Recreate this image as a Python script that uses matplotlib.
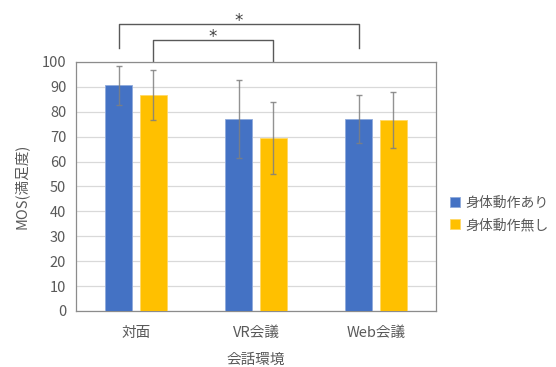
import matplotlib
matplotlib.use("Agg")
import matplotlib.pyplot as plt
import numpy as np

plt.rcParams['font.family'] = ['Noto Sans CJK JP', 'DejaVu Sans']

categories = ["対面", "VR会議", "Web会議"]
series_names = ["身体動作あり", "身体動作無し"]
with_motion = [90.6, 77.0, 77.0]
with_motion_sd = [7.7, 15.7, 9.6]
without_motion = [86.6, 69.6, 76.6]
without_motion_sd = [10.0, 14.4, 11.2]
yticks = list(range(0, 101, 10))

text_color = "#595959"
blue = "#4472C4"
yellow = "#FFC000"
fs = 10.5

fig = plt.figure(figsize=(5.56, 3.67), dpi=100)
ax = fig.add_axes([0.1367, 0.1526, 0.6475, 0.6785])

x = np.arange(len(categories))
width = 0.225
offset = 0.142

err_kw = dict(ecolor="#7f7f7f", elinewidth=1.0, capsize=2, capthick=1.0, alpha=0.85)
ax.bar(x - offset, with_motion, width, color=blue, edgecolor="#8faadc",
       linewidth=0.6, yerr=with_motion_sd, error_kw=err_kw, label=series_names[0], zorder=3)
ax.bar(x + offset, without_motion, width, color=yellow, edgecolor="#ffd966",
       linewidth=0.6, yerr=without_motion_sd, error_kw=err_kw, label=series_names[1], zorder=3)

ax.set_xlim(-0.5, len(categories) - 0.5)
ax.set_ylim(0, 100)
ax.set_yticks(yticks)
ax.set_xticks(x)
ax.set_xticklabels(categories)
ax.yaxis.grid(True, color="#d9d9d9", linewidth=0.9, zorder=0)
ax.set_axisbelow(True)
ax.tick_params(axis="both", length=0, colors=text_color, labelsize=fs)
ax.tick_params(axis="x", pad=11)
ax.tick_params(axis="y", pad=7)
for s in ax.spines.values():
    s.set_color("#8c8c8c")
    s.set_linewidth(0.9)

ax.set_ylabel("MOS(満足度)", color=text_color, fontsize=fs, labelpad=9)
ax.set_xlabel("会話環境", color=text_color, fontsize=fs, labelpad=9)

ax.legend(loc="center left", bbox_to_anchor=(1.0, 0.39), frameon=False,
          fontsize=10, handlelength=0.7, handleheight=0.7, handletextpad=0.4,
          labelspacing=0.6, borderaxespad=0.6, labelcolor=text_color)

# significance brackets above the plot
trans = ax.get_xaxis_transform()
def bracket(x0, x1, y_top, y_bot, star_y):
    ax.plot([x0, x0, x1, x1], [y_bot, y_top, y_top, y_bot], transform=trans,
            color="#595959", linewidth=1.0, clip_on=False, solid_joinstyle="round")
    ax.text((x0 + x1) / 2, star_y, "*", transform=trans, ha="center", va="center",
            fontsize=12, color="#404040", family="DejaVu Sans", clip_on=False)

bracket(x[0] - offset, x[2] - offset, 1.153, 1.056, 1.165)
bracket(x[0] + offset, x[1] + offset, 1.088, 1.004, 1.10)

fig.savefig("out.png", dpi=100)
